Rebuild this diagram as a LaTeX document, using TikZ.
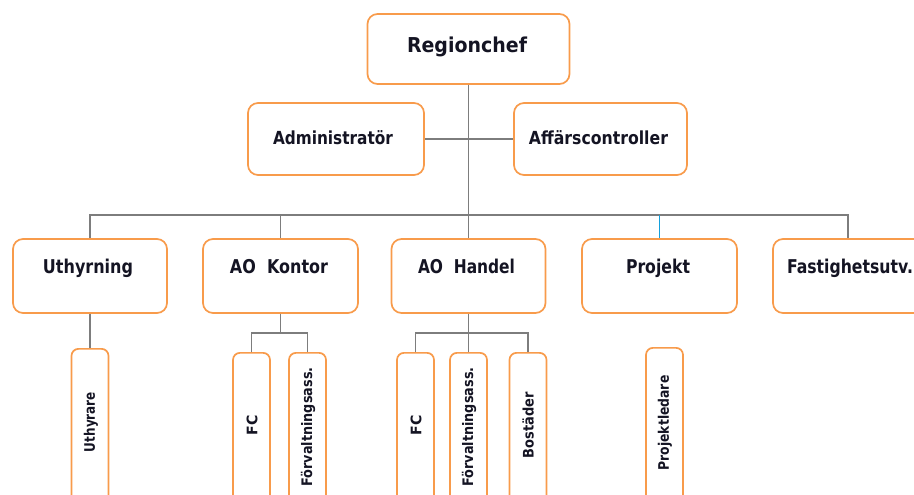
\documentclass[tikz,border=0pt]{standalone}
\usepackage{fontspec}
\setmainfont{DejaVu Sans}
\usepackage{graphicx}
% set a label to a given width, keeping its height
\newcommand\fitto[2]{\resizebox{#1}{\height}{#2}}

\definecolor{boxorange}{RGB}{248,155,75}
\definecolor{linegray}{RGB}{125,125,125}
\definecolor{lineblue}{RGB}{20,160,220}
\definecolor{inkdark}{RGB}{20,20,35}

\begin{document}
\begin{tikzpicture}[x=1pt,y=-1pt,
  box/.style={draw=boxorange, line width=1.7pt, rounded corners=10pt, fill=white, inner sep=0pt},
  tallbox/.style={draw=boxorange, line width=1.7pt, rounded corners=7pt, fill=white,
                  inner sep=0pt, anchor=north, minimum width=37pt, minimum height=175pt},
  conn/.style={draw=linegray, line width=1.6pt},
  toptitle/.style={anchor=base, inner sep=0pt, text=inkdark, font=\bfseries\fontsize{20.5}{24}\selectfont},
  midtitle/.style={anchor=base, inner sep=0pt, text=inkdark, font=\bfseries\fontsize{18}{22}\selectfont},
  rowtitle/.style={anchor=base, inner sep=0pt, text=inkdark, font=\bfseries\fontsize{19}{22}\selectfont},
  vtext/.style={rotate=90, inner sep=0pt, text=inkdark, font=\bfseries\fontsize{14.5}{17}\selectfont}
]
\useasboundingbox (0,0) rectangle (914,495);
\clip (0,0) rectangle (914,495);

% ---- top level ----
\node[box, minimum width=202pt, minimum height=70pt] (rc) at (468.5,49) {};
\node[toptitle] (rc-t) at (467,53) {\fitto{120pt}{Regionchef}};

% ---- staff ----
\node[box, minimum width=176pt, minimum height=72pt] (adm) at (336,139) {};
\node[midtitle] (adm-t) at (333,145) {\fitto{120pt}{Administratör}};
\node[box, minimum width=173pt, minimum height=72pt] (aff) at (600.5,139) {};
\node[midtitle] (aff-t) at (598.5,145) {\fitto{139pt}{Affärscontroller}};

% ---- departments ----
\node[box, minimum width=154pt, minimum height=74pt] (uth)  at (90,276)  {};
\node[box, minimum width=155pt, minimum height=74pt] (kon)  at (280.5,276) {};
\node[box, minimum width=154pt, minimum height=74pt] (han)  at (468.5,276) {};
\node[box, minimum width=155pt, minimum height=74pt] (proj) at (659.5,276) {};
\node[box, minimum width=155pt, minimum height=74pt] (fast) at (850.5,276) {};

\node[rowtitle] (uth-t)  at (88,273)    {\fitto{90pt}{Uthyrning}};
\node[rowtitle] (kon-t)  at (279,273)   {\fitto{98pt}{AO\ \ Kontor}};
\node[rowtitle] (han-t)  at (466.5,273) {\fitto{97pt}{AO\ \ Handel}};
\node[rowtitle] (proj-t) at (658,273)   {\fitto{64pt}{Projekt}};
\node[rowtitle] (fast-t) at (850,273)   {\fitto{126pt}{Fastighetsutv.}};

% ---- teams (running past the lower edge) ----
\node[tallbox] (uthyrare) at (90,348)    {};
\node[tallbox] (kfc)      at (251.5,352) {};
\node[tallbox] (kfv)      at (307.5,352) {};
\node[tallbox] (hfc)      at (415.5,352) {};
\node[tallbox] (hfv)      at (468.5,352) {};
\node[tallbox] (hbo)      at (528,352)   {};
\node[tallbox] (pl)       at (664.5,347) {};

\node[vtext] (uthyrare-t) at (91,422)   {\fitto{60pt}{Uthyrare}};
\node[vtext] (kfc-t)      at (252,425)  {\fitto{20pt}{FC}};
\node[vtext] (kfv-t)      at (308,427)  {\fitto{119pt}{Förvaltningsass.}};
\node[vtext] (hfc-t)      at (416,425)  {\fitto{20pt}{FC}};
\node[vtext] (hfv-t)      at (469,427)  {\fitto{119pt}{Förvaltningsass.}};
\node[vtext] (hbo-t)      at (528,425)  {\fitto{66pt}{Bostäder}};
\node[vtext] (pl-t)       at (665,423)  {\fitto{95pt}{Projektledare}};

% ---- connectors ----
\coordinate (busL) at (90,215);
\coordinate (busR) at (848,215);
\coordinate (kj) at (280.5,333);
\coordinate (hj) at (468.5,333);

\draw[conn] (rc.south) -- (han.north);
\draw[conn] (adm.east) -- (aff.west);
\draw[conn] (uth.north) -- (busL) -- (busR) -- (busR |- fast.north);
\draw[conn] (kon.north) -- (kon.north |- busL);
\draw[draw=lineblue, line width=1.2pt] (proj.north) -- (proj.north |- busL);

\draw[conn] (uth.south) -- (uthyrare.north);
\draw[conn] (kon.south) -- (kj);
\draw[conn] (kfc.north) |- (kj) -| (kfv.north);
\draw[conn] (han.south) -- (hfv.north);
\draw[conn] (hfc.north) |- (hj) -| (hbo.north);
\end{tikzpicture}
\end{document}
